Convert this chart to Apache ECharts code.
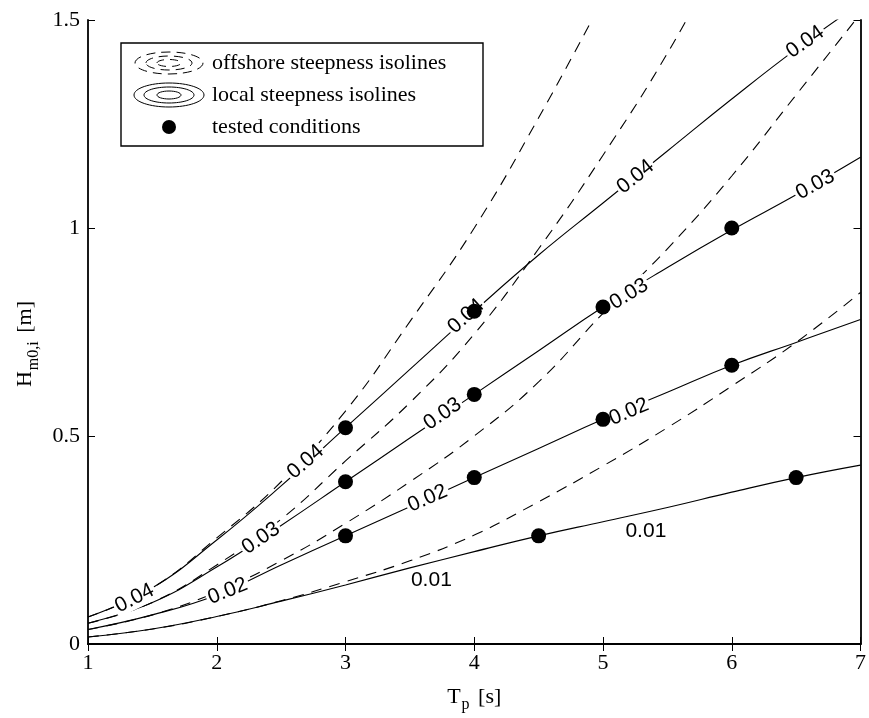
<!DOCTYPE html>
<html>
<head>
<meta charset="utf-8">
<script src="https://cdn.jsdelivr.net/npm/echarts@6/dist/echarts.min.js"></script>
<style>
  html, body { margin: 0; padding: 0; background: #fff; }
  #chart { width: 869px; height: 718px; }
</style>
</head>
<body>
<div id="chart"></div>
<script>
// wave period Tp [s] sampled along the isolines
const tp = [1, 1.5, 2, 2.5, 3, 3.5, 4, 4.5, 5, 5.5, 6, 6.5, 7];

// local steepness isolines (solid)
const local001 = [0.017, 0.036, 0.066, 0.103, 0.142, 0.183, 0.222, 0.26, 0.294, 0.328, 0.365, 0.40, 0.43];
const local002 = [0.035, 0.07, 0.118, 0.19, 0.26, 0.33, 0.40, 0.47, 0.54, 0.605, 0.67, 0.725, 0.78];
const local003 = [0.05, 0.10, 0.185, 0.285, 0.39, 0.495, 0.60, 0.705, 0.81, 0.905, 0.995, 1.08, 1.17];
const local004 = [0.065, 0.135, 0.25, 0.38, 0.52, 0.66, 0.80, 0.935, 1.06, 1.185, 1.31, 1.43, 1.54];

// offshore steepness isolines (dashed)
const off001 = [0.017, 0.036, 0.066, 0.104, 0.15, 0.2, 0.262, 0.342, 0.428, 0.52, 0.62, 0.725, 0.845];
const off002 = [0.035, 0.07, 0.125, 0.2, 0.29, 0.39, 0.50, 0.63, 0.795, 0.95, 1.125, 1.32, 1.515];
const off003 = [0.05, 0.10, 0.19, 0.3, 0.44, 0.58, 0.745, 0.95, 1.175, 1.42, 1.7];
const off004 = [0.065, 0.135, 0.255, 0.39, 0.56, 0.775, 1.0, 1.265, 1.55];

// tested conditions
const testT = [3, 3, 3, 4, 4, 4, 4.5, 5, 5, 6, 6, 6.5];
const testH = [0.52, 0.39, 0.26, 0.80, 0.60, 0.40, 0.26, 0.81, 0.54, 1.00, 0.67, 0.40];

// contour labels
const labelT = [1.362, 2.085, 2.343, 2.69, 3.667, 3.638, 3.754, 3.936, 5.202, 5.202, 5.333, 5.253, 6.649, 6.571];
const labelH = [0.110, 0.127, 0.254, 0.438, 0.153, 0.350, 0.553, 0.788, 0.841, 0.558, 0.271, 1.123, 1.104, 1.447];
const labelText = ["0.04", "0.02", "0.03", "0.04", "0.01", "0.02", "0.03", "0.04", "0.03", "0.02", "0.01", "0.04", "0.03", "0.04"];
const labelAngle = [27, 22, 34, 41, 0, 24, 34, 42, 31, 23, 0, 39, 29, 35];

const xTicks = [1, 7, 1];
const yTicks = [0, 1.5, 0.5];

const pairs = (ys) => ys.map((y, i) => [tp[i], y]);

const chart = echarts.init(document.getElementById("chart"), null, { renderer: "canvas" });

const serif = "Liberation Serif";
const sans = "Liberation Sans";

const lineSeries = (data, dashed) => ({
  type: "line",
  data: pairs(data),
  xAxisIndex: 0,
  yAxisIndex: 0,
  showSymbol: false,
  smooth: 0.45,
  clip: true,
  silent: true,
  z: 2,
  lineStyle: { color: "#000", width: 1.1, type: dashed ? [11, 8] : "solid" },
});

const baseAxis = {
  axisLine: { show: true, lineStyle: { color: "#000", width: 1.8 } },
  axisTick: { show: true, inside: true, length: 7, lineStyle: { color: "#000", width: 1 } },
  splitLine: { show: false },
};

chart.setOption({
  animation: false,
  backgroundColor: "#fff",
  grid: { left: 88, right: 7, top: 20, bottom: 72 },
  xAxis: [
    Object.assign({}, baseAxis, {
      type: "value", min: xTicks[0], max: xTicks[1], interval: xTicks[2], position: "bottom",
      axisLabel: { color: "#000", fontFamily: serif, fontSize: 22, margin: 8 },
      name: "{t|T}{s|p}{t| [s]}",
      nameLocation: "middle",
      nameGap: 37,
      nameTextStyle: {
        rich: {
          t: { fontFamily: serif, fontSize: 22, color: "#000" },
          s: { fontFamily: serif, fontSize: 16, color: "#000", padding: [16, 3, 0, 1] },
        },
      },
    }),
    Object.assign({}, baseAxis, {
      type: "value", min: xTicks[0], max: xTicks[1], interval: xTicks[2], position: "top",
      axisLabel: { show: false },
    }),
  ],
  yAxis: [
    Object.assign({}, baseAxis, {
      type: "value", min: yTicks[0], max: yTicks[1], interval: yTicks[2], position: "left",
      axisLabel: { color: "#000", fontFamily: serif, fontSize: 22, margin: 8 },
      name: "{t|H}{s|m0,i}{t| [m]}",
      nameLocation: "middle",
      nameRotate: 90,
      nameGap: 46,
      nameTextStyle: {
        padding: [0, 24, 0, 0],
        rich: {
          t: { fontFamily: serif, fontSize: 22, color: "#000" },
          s: { fontFamily: serif, fontSize: 16, color: "#000", padding: [16, 3, 0, 1] },
        },
      },
    }),
    Object.assign({}, baseAxis, {
      type: "value", min: yTicks[0], max: yTicks[1], interval: yTicks[2], position: "right",
      axisLabel: { show: false },
    }),
  ],
  series: [
    lineSeries(off001, true),
    lineSeries(off002, true),
    lineSeries(off003, true),
    lineSeries(off004, true),
    lineSeries(local001, false),
    lineSeries(local002, false),
    lineSeries(local003, false),
    lineSeries(local004, false),
    {
      type: "scatter",
      silent: true,
      z: 3,
      symbolSize: 1,
      itemStyle: { color: "rgba(0,0,0,0)", opacity: 1 },
      data: labelT.map((t, i) => ({
        name: labelText[i],
        value: [t, labelH[i]],
        label: { rotate: labelAngle[i] },
      })),
      label: {
        show: true,
        position: "inside",
        formatter: (p) => p.name,
        fontFamily: sans,
        fontSize: 21,
        color: "#000",
        opacity: 1,
        backgroundColor: "#fff",
        padding: [0, 2],
      },
    },
    {
      type: "scatter",
      silent: true,
      z: 4,
      symbol: "circle",
      symbolSize: 15,
      itemStyle: { color: "#000", opacity: 1 },
      data: testT.map((t, i) => [t, testH[i]]),
    },
  ],
  graphic: [
    { type: "rect", z: 10, shape: { x: 121, y: 43, width: 362, height: 103 },
      style: { fill: "#fff", stroke: "#000", lineWidth: 1.4 } },
    { type: "ellipse", z: 11, shape: { cx: 169, cy: 63, rx: 34, ry: 11 },
      style: { fill: null, stroke: "#000", lineWidth: 1, lineDash: [9, 6] } },
    { type: "ellipse", z: 11, shape: { cx: 169, cy: 63, rx: 23, ry: 7 },
      style: { fill: null, stroke: "#000", lineWidth: 1, lineDash: [9, 6] } },
    { type: "ellipse", z: 11, shape: { cx: 169, cy: 63, rx: 12, ry: 3.5 },
      style: { fill: null, stroke: "#000", lineWidth: 1, lineDash: [8, 6] } },
    { type: "ellipse", z: 11, shape: { cx: 169, cy: 95, rx: 35, ry: 12 },
      style: { fill: null, stroke: "#000", lineWidth: 1 } },
    { type: "ellipse", z: 11, shape: { cx: 169, cy: 95, rx: 25, ry: 8 },
      style: { fill: null, stroke: "#000", lineWidth: 1 } },
    { type: "ellipse", z: 11, shape: { cx: 169, cy: 95, rx: 12, ry: 4 },
      style: { fill: null, stroke: "#000", lineWidth: 1 } },
    { type: "circle", z: 11, shape: { cx: 169, cy: 127, r: 7 }, style: { fill: "#000" } },
    { type: "text", z: 11, x: 212, y: 63,
      style: { text: "offshore steepness isolines", font: "22px " + serif, fill: "#000", verticalAlign: "middle" } },
    { type: "text", z: 11, x: 212, y: 95,
      style: { text: "local steepness isolines", font: "22px " + serif, fill: "#000", verticalAlign: "middle" } },
    { type: "text", z: 11, x: 212, y: 127,
      style: { text: "tested conditions", font: "22px " + serif, fill: "#000", verticalAlign: "middle" } },
  ],
});
</script>
</body>
</html>
